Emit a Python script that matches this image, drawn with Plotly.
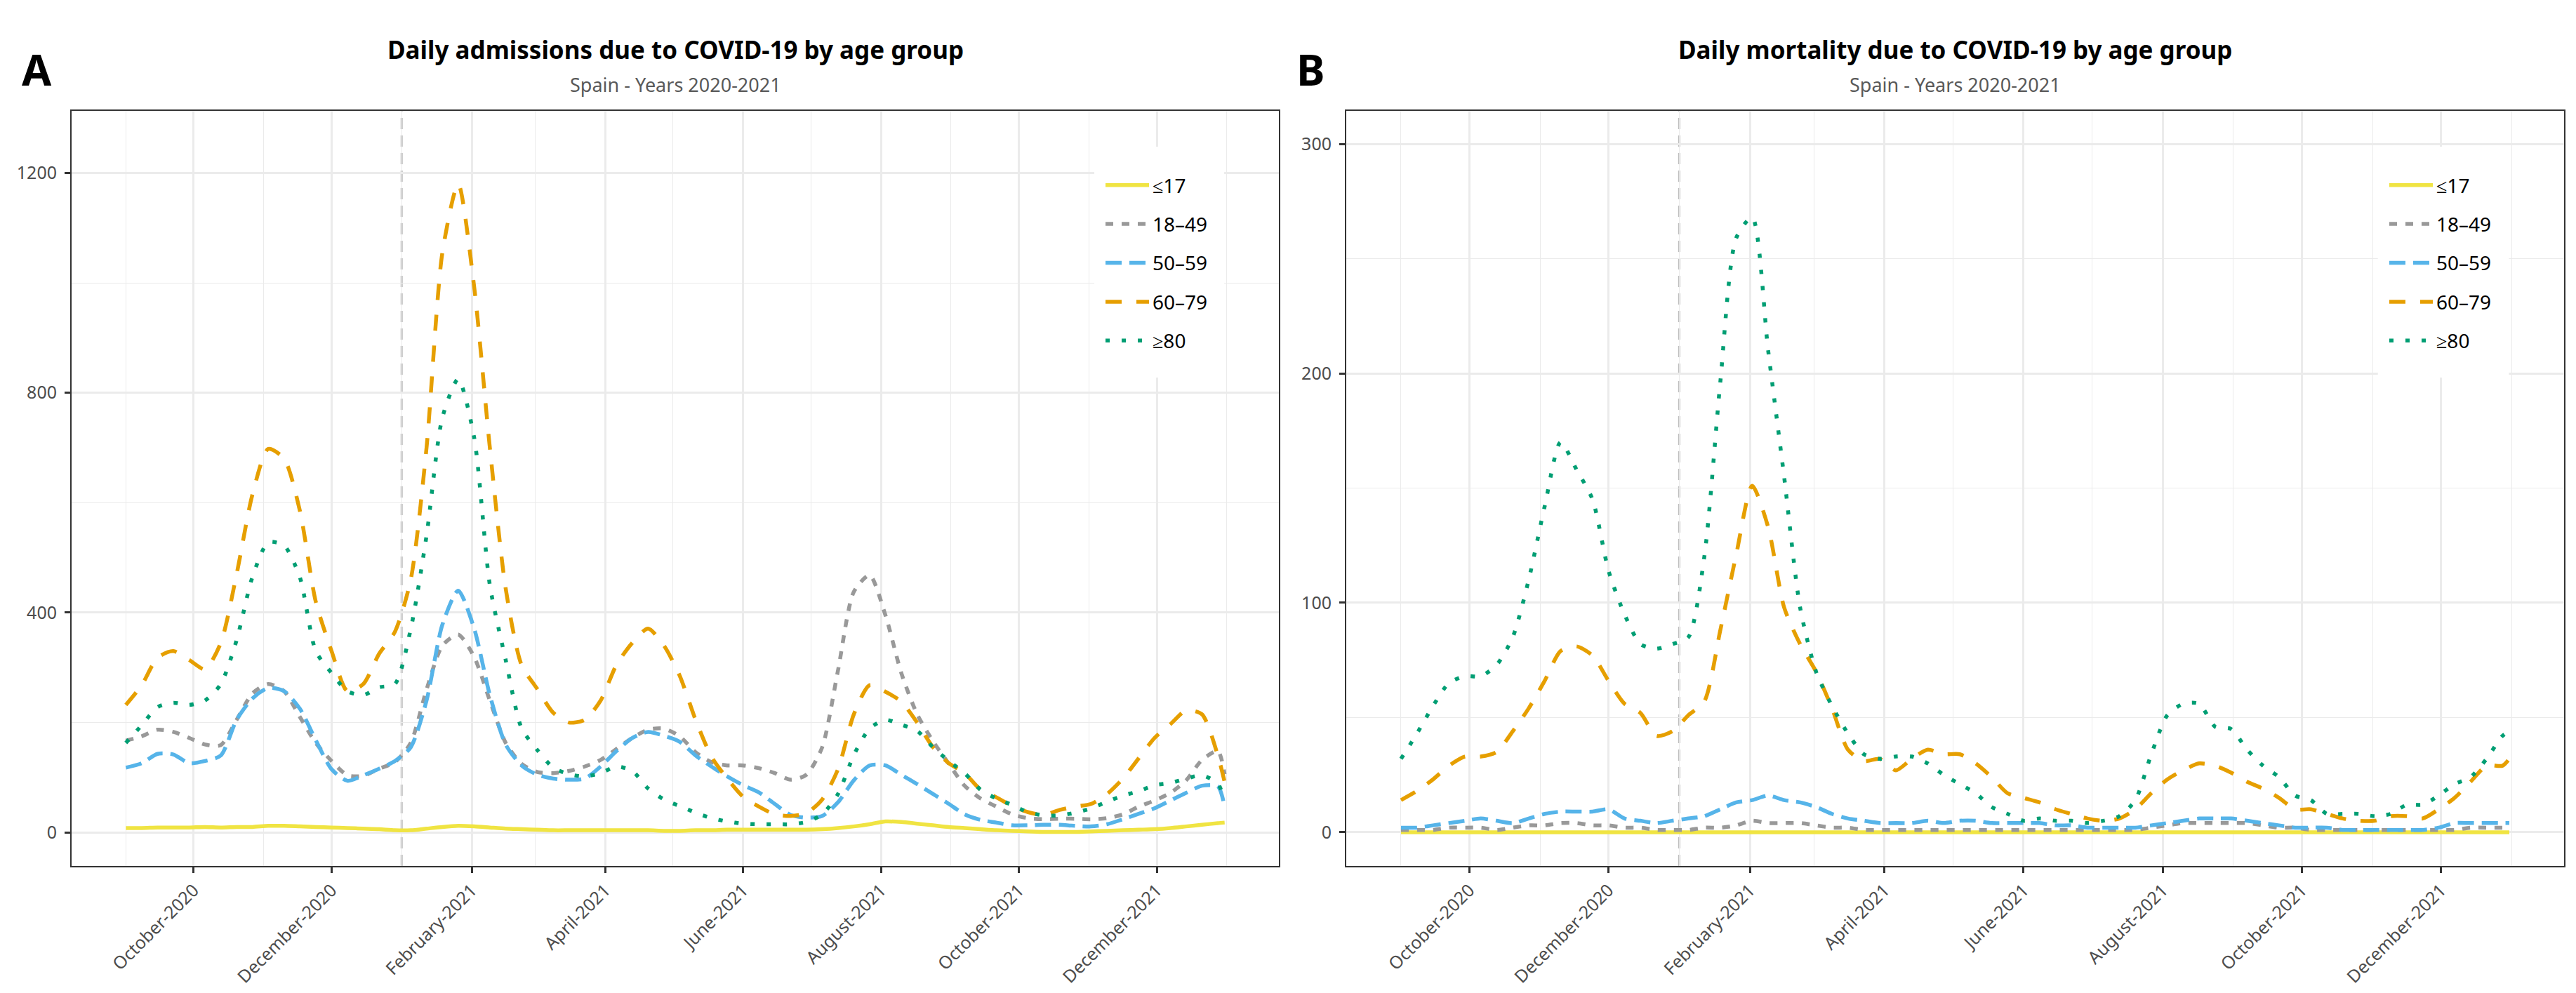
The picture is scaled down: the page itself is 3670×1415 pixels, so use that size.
import pandas as pd
import plotly.graph_objects as go

W, H = 3670, 1415
FONT = "Noto Sans"

# weekly sampling grid, last point is 31 Dec 2021
week_dates = list(pd.date_range("2020-09-01", "2021-12-28", freq="7D").strftime("%Y-%m-%d")) + ["2021-12-31"]

age_groups = ["≤17", "18–49", "50–59", "60–79", "≥80"]
group_colors = ["#F0E442", "#999999", "#56B4E9", "#E69F00", "#009E73"]
group_dashes = ["solid", "11px,12px", "23px,11px", "23px,21px", "6px,17px"]

tick_dates = ["2020-10-01", "2020-12-01", "2021-02-01", "2021-04-01",
              "2021-06-01", "2021-08-01", "2021-10-01", "2021-12-01"]
tick_labels = ["October-2020", "December-2020", "February-2021", "April-2021",
               "June-2021", "August-2021", "October-2021", "December-2021"]
minor_dates = ["2020-09-01", "2020-11-01", "2021-01-01", "2021-03-01", "2021-05-01",
               "2021-07-01", "2021-09-01", "2021-11-01", "2022-01-01"]

# --- A: daily admissions ---
adm_le17 = [8, 8, 9, 9, 9, 10, 9, 10, 10, 12, 12, 11, 10, 9, 8, 7, 6, 4, 4, 7, 10, 12,
            11, 9, 7, 6, 5, 4, 4, 4, 4, 4, 4, 4, 3, 3, 4, 4, 5, 5, 5, 5, 5, 5, 6, 8, 11, 15,
            20, 19, 16, 13, 10, 8, 6, 4, 3, 2, 1, 1, 1, 2, 3, 4, 5, 6, 8, 11, 14, 17, 18]
adm_18_49 = [167, 175, 187, 183, 172, 160, 159, 205, 253, 270, 257, 210, 163, 130, 104, 103,
             116, 128, 163, 260, 340, 360, 320, 240, 163, 125, 110, 108, 112, 120, 132, 152,
             172, 187, 189, 175, 146, 128, 122, 122, 117, 108, 96, 105, 155, 295, 438, 468,
             395, 290, 215, 166, 125, 85, 62, 47, 33, 26, 24, 25, 25, 24, 26, 33, 47, 58, 72,
             95, 132, 148, 106]
adm_50_59 = [118, 126, 143, 142, 126, 130, 140, 205, 244, 263, 257, 225, 168, 115, 94, 104,
             116, 130, 155, 240, 378, 440, 372, 250, 160, 122, 105, 98, 96, 98, 120, 148, 172,
             183, 176, 165, 140, 120, 102, 86, 73, 52, 32, 27, 30, 55, 95, 122, 122, 105, 88,
             70, 52, 33, 23, 18, 13, 13, 14, 14, 12, 11, 15, 24, 34, 44, 58, 72, 85, 84, 47]
adm_60_79 = [232, 268, 318, 330, 314, 297, 345, 470, 615, 698, 680, 585, 420, 330, 257, 270,
             325, 365, 460, 700, 1055, 1180, 995, 700, 444, 305, 261, 218, 200, 205, 240, 305,
             345, 371, 340, 285, 205, 138, 98, 65, 47, 33, 30, 35, 60, 115, 215, 268, 256, 238,
             200, 155, 126, 108, 78, 64, 48, 37, 32, 41, 47, 52, 70, 98, 135, 172, 197, 222,
             215, 140, 92]
adm_ge80 = [163, 195, 228, 236, 232, 240, 270, 350, 465, 528, 522, 464, 330, 290, 257, 250,
            264, 270, 370, 540, 755, 825, 720, 450, 314, 190, 150, 118, 106, 102, 108, 120,
            112, 80, 60, 48, 36, 26, 20, 16, 15, 15, 15, 19, 33, 70, 141, 189, 205, 196, 185,
            155, 130, 108, 78, 62, 50, 37, 31, 31, 36, 44, 56, 67, 75, 86, 90, 98, 104, 89, 58]

# --- B: daily mortality ---
mort_le17 = [0, 0, 0, 0, 0, 0, 0, 0, 0, 0, 0, 0, 0, 0, 0, 0, 0, 0, 0, 0, 0, 0, 0, 0,
             0, 0, 0, 0, 0, 0, 0, 0, 0, 0, 0, 0, 0, 0, 0, 0, 0, 0, 0, 0, 0, 0, 0, 0, 0, 0, 0,
             0, 0, 0, 0, 0, 0, 0, 0, 0, 0, 0, 0, 0, 0, 0, 0, 0, 0, 0, 0]
mort_18_49 = [1, 1, 1, 2, 2, 2, 1, 2, 3, 3, 4, 4, 3, 3, 2, 2, 1, 1, 1, 2, 2, 3, 5, 4, 4, 4,
              3, 2, 2, 1, 1, 1, 1, 1, 1, 1, 1, 1, 1, 1, 1, 1, 1, 1, 1, 1, 1, 2, 3, 4, 4, 4, 4,
              4, 3, 2, 2, 1, 1, 1, 1, 1, 1, 1, 1, 1, 1, 2, 2, 2, 2]
mort_50_59 = [2, 2, 3, 4, 5, 6, 5, 4, 6, 8, 9, 9, 9, 10, 6, 5, 4, 5, 6, 7, 10, 13, 14, 16,
              14, 13, 11, 8, 6, 5, 4, 4, 4, 5, 4, 5, 5, 4, 4, 4, 4, 3, 3, 2, 2, 2, 2, 3, 4, 5,
              6, 6, 6, 5, 4, 3, 2, 2, 2, 1, 1, 1, 1, 1, 1, 2, 4, 4, 4, 4, 4]
mort_60_79 = [14, 18, 23, 29, 33, 33, 35, 44, 54, 66, 79, 81, 77, 66, 56, 52, 42, 44, 51, 57,
              88, 121, 151, 133, 98, 82, 70, 54, 36, 31, 32, 27, 32, 36, 34, 34, 30, 24, 17,
              15, 13, 10, 8, 6, 5, 6, 10, 17, 23, 27, 30, 29, 26, 22, 19, 15, 10, 10, 8, 6, 5,
              5, 7, 7, 6, 10, 15, 22, 29, 29, 32]
mort_ge80 = [32, 43, 55, 65, 68, 68, 73, 85, 110, 142, 170, 158, 145, 114, 95, 82, 80, 82, 85,
             120, 196, 259, 268, 210, 155, 98, 70, 55, 43, 34, 32, 33, 33, 30, 25, 21, 17, 11,
             8, 5, 6, 5, 5, 4, 5, 7, 14, 34, 51, 56, 56, 46, 45, 36, 29, 24, 16, 14, 8, 8, 8,
             7, 8, 12, 12, 16, 21, 24, 32, 42, 44]

admissions = [adm_le17, adm_18_49, adm_50_59, adm_60_79, adm_ge80]
mortality = [mort_le17, mort_18_49, mort_50_59, mort_60_79, mort_ge80]

range_a = [-61, 1313]
range_b = [-14.7, 314.4]


def fx(px):
    return px / W


def fy(py):
    return 1 - py / H


fig = go.Figure()

for i, name in enumerate(age_groups):
    fig.add_trace(go.Scatter(
        x=week_dates, y=admissions[i], name=name, mode="lines",
        line=dict(color=group_colors[i], width=5.5, dash=group_dashes[i],
                  shape="spline", smoothing=0.7),
        xaxis="x", yaxis="y", legend="legend", legendgroup=f"a{i}"))
for i, name in enumerate(age_groups):
    fig.add_trace(go.Scatter(
        x=week_dates, y=mortality[i], name=name, mode="lines",
        line=dict(color=group_colors[i], width=5.5, dash=group_dashes[i],
                  shape="spline", smoothing=0.7),
        xaxis="x2", yaxis="y2", legend="legend2", legendgroup=f"b{i}"))

axis_common = dict(
    showline=True, mirror=True, linecolor="#333333", linewidth=2,
    ticks="outside", ticklen=8, tickwidth=2.5, tickcolor="#333333",
    showgrid=True, gridcolor="#EBEBEB", gridwidth=2.7, zeroline=False,
    tickfont=dict(family=FONT, size=25, color="#4D4D4D"),
)
x_common = dict(axis_common, type="date", range=["2020-08-08", "2022-01-24"],
                tickmode="array", tickvals=tick_dates, ticktext=tick_labels, tickangle=-45,
                minor=dict(tickmode="array", tickvals=minor_dates, showgrid=True,
                           gridcolor="#EBEBEB", gridwidth=1.4, ticks=""))
legend_common = dict(xanchor="left", yanchor="top", bgcolor="rgba(0,0,0,0)",
                     font=dict(family=FONT, size=28, color="black"),
                     tracegroupgap=16, itemwidth=62, traceorder="grouped")

plot_top, plot_bot = 150, 1226
fig.update_layout(
    width=W, height=H,
    margin=dict(l=0, r=0, t=0, b=0),
    paper_bgcolor="white", plot_bgcolor="white",
    font=dict(family=FONT, color="black"),
    xaxis=dict(x_common, domain=[fx(94), fx(1814)], anchor="y"),
    yaxis=dict(axis_common, domain=[fy(plot_bot), fy(plot_top)], anchor="x",
               range=range_a, tickvals=[0, 400, 800, 1200], ticklabelstandoff=6,
               minor=dict(tickvals=[200, 600, 1000], showgrid=True,
                          gridcolor="#EBEBEB", gridwidth=1.4, ticks="")),
    xaxis2=dict(x_common, domain=[fx(1910), fx(3645)], anchor="y2"),
    yaxis2=dict(axis_common, domain=[fy(plot_bot), fy(plot_top)], anchor="x2",
                range=range_b, tickvals=[0, 100, 200, 300], ticklabelstandoff=6,
                minor=dict(tickvals=[50, 150, 250], showgrid=True,
                           gridcolor="#EBEBEB", gridwidth=1.4, ticks="")),
    legend=dict(legend_common, x=fx(1562), y=fy(231)),
    legend2=dict(legend_common, x=fx(3391), y=fy(231)),
    showlegend=True,
)

# white legend boxes hiding the grid, and the dashed line at 1 January 2021
for xr, yr, rng in (("x", "y", range_a), ("x2", "y2", range_b)):
    fig.add_shape(type="rect", xref=f"{xr} domain", yref=f"{yr} domain",
                  x0=0.8471, x1=0.9547, y0=0.6468, y1=0.9526,
                  fillcolor="white", line=dict(width=0), layer="above")
    fig.add_shape(type="line", xref=xr, yref=yr,
                  x0="2021-01-01", x1="2021-01-01", y0=rng[0], y1=rng[1],
                  line=dict(color="#BEBEBE", width=3, dash="16px,9px"), layer="below")

panels = [
    ("A", "Daily admissions due to COVID-19 by age group", 954, 33),
    ("B", "Daily mortality due to COVID-19 by age group", 2777, 1849),
]
for letter, title, cx, lx in panels:
    fig.add_annotation(text=f"<b>{title}</b>", x=fx(cx), y=fy(62), xref="paper", yref="paper",
                       xanchor="center", yanchor="middle", showarrow=False,
                       font=dict(family=FONT, size=35, color="black"))
    fig.add_annotation(text="Spain - Years 2020-2021", x=fx(cx), y=fy(112), xref="paper",
                       yref="paper", xanchor="center", yanchor="middle", showarrow=False,
                       font=dict(family=FONT, size=27, color="#595959"))
    fig.add_annotation(text=f"<b>{letter}</b>", x=fx(lx - 12), y=fy(91), xref="paper",
                       yref="paper", xanchor="left", yanchor="middle", showarrow=False,
                       font=dict(family=FONT, size=61, color="black"))

fig.write_html("out.html")
